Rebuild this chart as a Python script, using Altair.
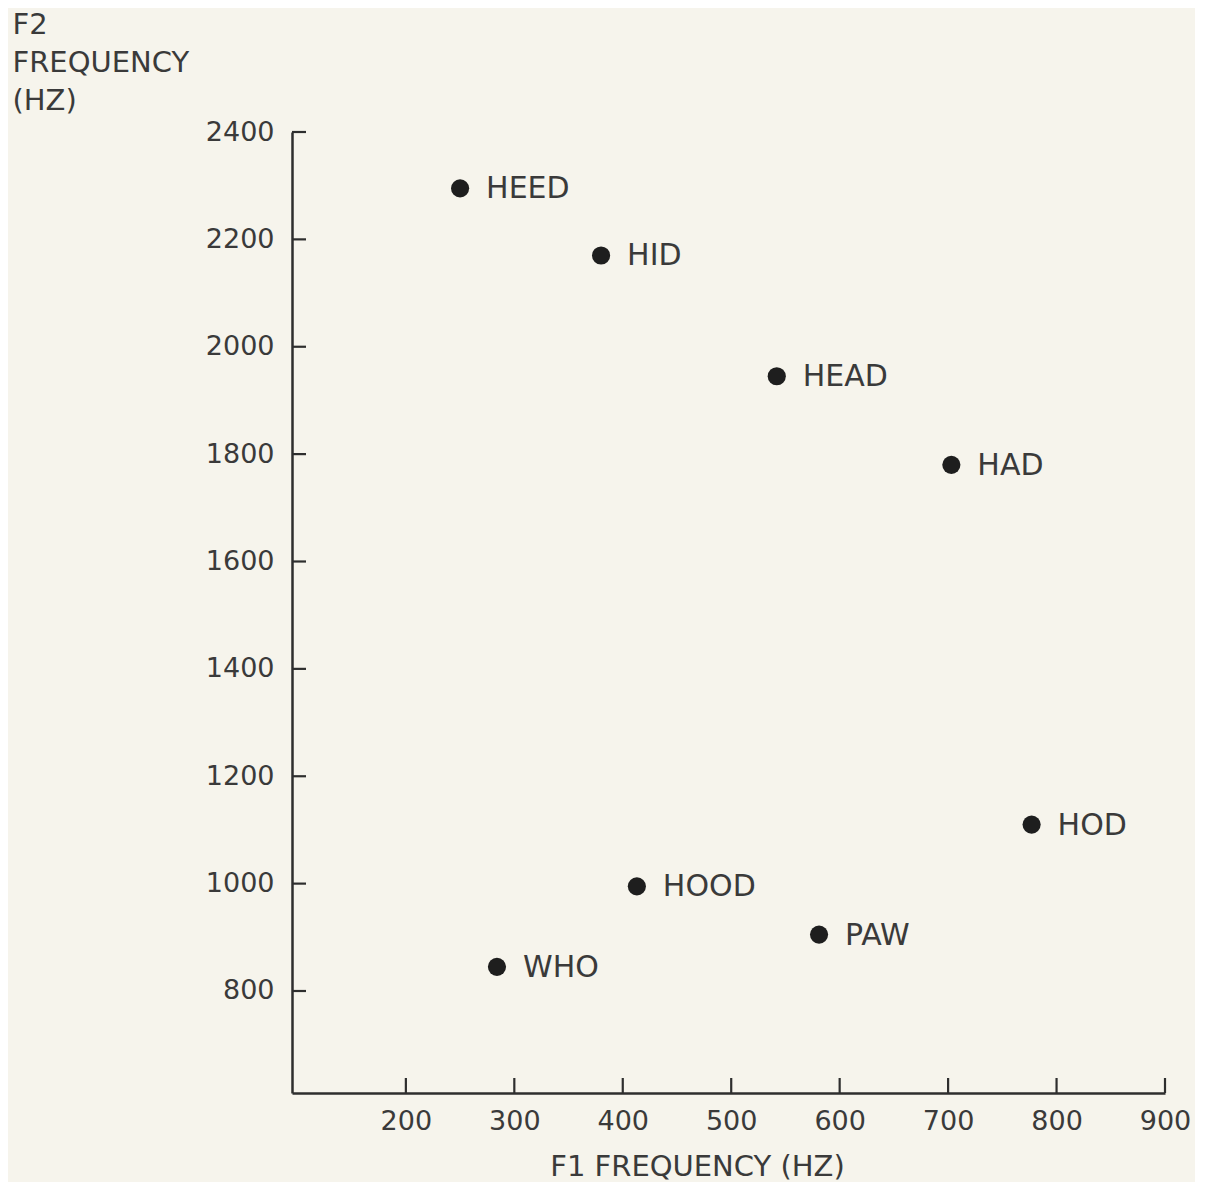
import altair as alt
import pandas as pd

# Vowel words and their formant frequencies (Hz)
words = ["HEED", "HID", "HEAD", "HAD", "HOD", "PAW", "HOOD", "WHO"]
f1_values = [250, 380, 542, 703, 777, 581, 413, 284]
f2_values = [2295, 2170, 1945, 1780, 1110, 905, 995, 845]

x_ticks = [200, 300, 400, 500, 600, 700, 800, 900]
y_ticks = [800, 1000, 1200, 1400, 1600, 1800, 2000, 2200, 2400]

df = pd.DataFrame({"word": words, "f1": f1_values, "f2": f2_values})
xt = pd.DataFrame({"t": x_ticks})
yt = pd.DataFrame({"t": y_ticks})

W, H = 873, 961
FONT = "DejaVu Sans"
INK = "#2e2e2e"
TXT = "#3a3a3a"
BG = "#f6f4ec"

xscale = alt.Scale(domain=[95, 900], nice=False, zero=False)
yscale = alt.Scale(domain=[610, 2400], nice=False, zero=False)

x_axis = alt.Axis(
    values=x_ticks, format="d", ticks=False, tickSize=0, grid=False,
    labelFlush=False, labelOverlap=False, labelBound=False,
    domainColor=INK, domainWidth=2.5,
    labelFont=FONT, labelFontSize=27, labelColor=TXT, labelPadding=15,
    title="F1 FREQUENCY (HZ)", titleFont=FONT, titleFontSize=29,
    titleFontWeight="normal", titleColor=TXT,
    titleX=405, titleY=82, titleAlign="center", titleBaseline="alphabetic",
)
y_axis = alt.Axis(
    values=y_ticks, format="d", ticks=False, tickSize=0, grid=False,
    labelFlush=False, labelOverlap=False, labelBound=False,
    domainColor=INK, domainWidth=2.5,
    labelFont=FONT, labelFontSize=27, labelColor=TXT, labelPadding=18,
    title=["F2", "FREQUENCY", "(HZ)"], titleFont=FONT, titleFontSize=29,
    titleFontWeight="normal", titleColor=TXT, titleAngle=0,
    titleX=-280, titleY=-99, titleAlign="left", titleBaseline="alphabetic",
    titleLineHeight=38,
)

points = alt.Chart(df).mark_circle(size=330, color="#1e1e1e", opacity=1).encode(
    x=alt.X("f1:Q", scale=xscale, axis=x_axis),
    y=alt.Y("f2:Q", scale=yscale, axis=y_axis),
)

labels = alt.Chart(df).mark_text(
    align="left", baseline="middle", dx=26, dy=1,
    font=FONT, fontSize=30, color=TXT,
).encode(
    x=alt.X("f1:Q", scale=xscale),
    y=alt.Y("f2:Q", scale=yscale),
    text="word:N",
)

xtick_marks = alt.Chart(xt).mark_rule(color=INK, strokeWidth=2.2).encode(
    x=alt.X("t:Q", scale=xscale),
    y=alt.value(H),
    y2=alt.value(H - 15),
)

ytick_marks = alt.Chart(yt).mark_rule(color=INK, strokeWidth=2.2).encode(
    y=alt.Y("t:Q", scale=yscale),
    x=alt.value(0),
    x2=alt.value(14),
)

chart = alt.layer(points, labels, xtick_marks, ytick_marks).properties(
    width=W, height=H,
    autosize=alt.AutoSizeParams(type="none"),
    padding={"left": 284, "top": 124, "right": 30, "bottom": 89},
    background=BG,
).configure_view(stroke=None)

chart.save("out.html", embed_options={"renderer": "svg", "actions": False})
